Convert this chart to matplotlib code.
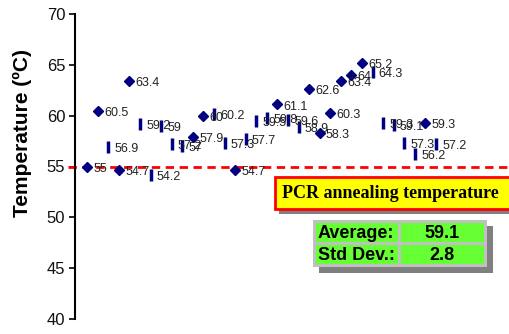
import matplotlib
matplotlib.use("Agg")
import matplotlib.pyplot as plt
from matplotlib.patches import Rectangle

# data (x = sample index, y = temperature in C)
diamond_x = [1, 2, 4, 5, 11, 12, 15, 19, 22, 23, 24, 25, 26, 27, 33]
diamond_y = [55, 60.5, 54.7, 63.4, 57.9, 60, 54.7, 61.1, 62.6, 58.3, 60.3, 63.4, 64, 65.2, 59.3]
bar_x = [3, 6, 7, 8, 9, 10, 13, 14, 16, 17, 18, 20, 21, 28, 29, 30, 31, 32, 34]
bar_y = [56.9, 59.2, 54.2, 59, 57.2, 57, 60.2, 57.3, 57.7, 59.5, 59.8, 59.6, 58.9, 64.3, 59.3, 59.1, 57.3, 56.2, 57.2]
anneal_temp = 55
stats_names = ["Average:", "Std Dev.:"]
stats_values = ["59.1", "2.8"]
y_ticks = [40, 45, 50, 55, 60, 65, 70]

plt.rcParams['font.family'] = ['Liberation Sans', 'DejaVu Sans']

W, H = 510, 334
fig = plt.figure(figsize=(W / 100, H / 100), dpi=100)
ax = fig.add_axes([75 / W, 15 / H, 1 - 75 / W, 305 / H])

navy = '#000080'
ax.plot(diamond_x, diamond_y, linestyle='none', marker='D', ms=5.5, color=navy, zorder=3)
ax.plot(bar_x, bar_y, linestyle='none', marker='|', ms=8, mew=2.5, color=navy, zorder=3)

for x, y in list(zip(diamond_x, diamond_y)) + list(zip(bar_x, bar_y)):
    ax.annotate(f"{y:g}", (x, y), xytext=(4.5, -1.5), textcoords='offset points',
                va='center', ha='left', fontsize=9, color='#222222', zorder=4)

ax.axhline(anneal_temp, xmin=-0.015, xmax=1, color='red', lw=2,
           linestyle=(0, (3, 2)), clip_on=False, zorder=2)

ax.set_xlim(-0.15, 41)
ax.set_ylim(40, 70)
ax.set_yticks(y_ticks)
ax.tick_params(axis='y', labelsize=12, length=4, width=1.2, pad=3, labelcolor='#111111')
ax.set_xticks([])
for s in ['top', 'right', 'bottom']:
    ax.spines[s].set_visible(False)
ax.spines['left'].set_linewidth(1.5)

fig.text(22 / W, 1 - 133 / H, "Temperature (ºC)", rotation=90, ha='center', va='center',
         fontsize=15, fontweight='bold')

# title box
tf = fig.transFigure
def px_rect(x0, y0, x1, y1, **kw):
    return Rectangle((x0 / W, 1 - y1 / H), (x1 - x0) / W, (y1 - y0) / H, transform=tf, **kw)

fig.patches.append(px_rect(279, 181, 515, 214, facecolor='#808080', edgecolor='none'))
fig.patches.append(px_rect(275, 177, 515, 209, facecolor='yellow', edgecolor='red', lw=2))
fig.text(282 / W, 1 - 194 / H, "PCR annealing temperature", family='Liberation Serif',
         fontweight='bold', fontsize=13, va='center', ha='left')

# stats table
fig.patches.append(px_rect(319, 226, 493, 273, facecolor='#808080', edgecolor='none'))
fig.patches.append(px_rect(313, 220, 487, 267, facecolor='#c0c0c0', edgecolor='none'))
rows = [(223, 242), (245, 264)]
for (y0, y1), name, val in zip(rows, stats_names, stats_values):
    fig.patches.append(px_rect(316, y0, 398, y1, facecolor='#66ff33', edgecolor='none'))
    fig.patches.append(px_rect(401, y0, 484, y1, facecolor='#66ff33', edgecolor='none'))
    yc = 1 - ((y0 + y1) / 2 + 1.5) / H
    fig.text(318 / W, yc, name, fontsize=13, fontweight='bold', va='center', ha='left')
    fig.text(442 / W, yc, val, fontsize=13, fontweight='bold', va='center', ha='center')

fig.savefig("out.png", dpi=100)
